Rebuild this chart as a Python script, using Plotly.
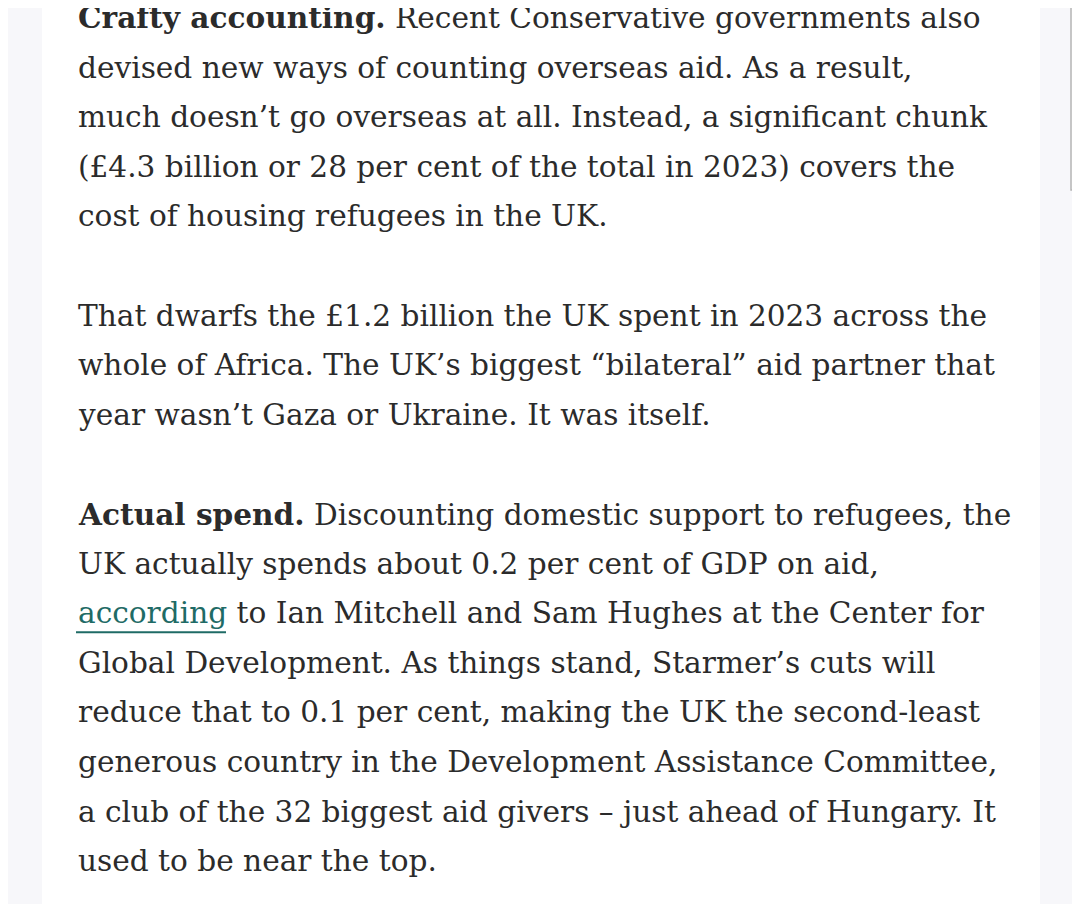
import plotly.graph_objects as go

W, H = 1080, 904
OFF = 8  # default body margin of the page

# text content, one entry per rendered line
para1 = [
    "<b>Crafty accounting.</b> Recent Conservative governments also",
    "devised new ways of counting overseas aid. As a result,",
    "much doesn\u2019t go overseas at all. Instead, a significant chunk",
    "(\u00a34.3 billion or 28 per cent of the total in 2023) covers the",
    "cost of housing refugees in the UK.",
]
para2 = [
    "That dwarfs the \u00a31.2 billion the UK spent in 2023 across the",
    "whole of Africa. The UK\u2019s biggest \u201cbilateral\u201d aid partner that",
    "year wasn\u2019t Gaza or Ukraine. It was itself.",
]
para3 = [
    "<b>Actual spend.</b> Discounting domestic support to refugees, the",
    "UK actually spends about 0.2 per cent of GDP on aid,",
    "<span style='color:#1f6b66'>according</span> to Ian Mitchell and Sam Hughes at the Center for",
    "Global Development. As things stand, Starmer\u2019s cuts will",
    "reduce that to 0.1 per cent, making the UK the second-least",
    "generous country in the Development Assistance Committee,",
    "a club of the 32 biggest aid givers \u2013 just ahead of Hungary. It",
    "used to be near the top.",
]
paragraphs = [para1, para2, para3]

text_color = "#2b2b2b"
line_h = 49.6
top = 18 - OFF
left = 76 - OFF


def px(x):
    return (x - OFF) / W


def py(y):
    return 1 - (y - OFF) / H


fig = go.Figure()
annotations = []
row = 0
for para in paragraphs:
    for line in para:
        y = top + row * line_h
        annotations.append(dict(
            x=left / W, y=1 - y / H, xref="paper", yref="paper",
            xanchor="left", yanchor="middle", showarrow=False, text=line,
            font=dict(family="DejaVu Serif", size=29.6, color=text_color),
        ))
        row += 1
    row += 1

# link underline below "according" (row 12)
uy = 18 + 12 * line_h + 19
shapes = [
    dict(type="rect", xref="paper", yref="paper", x0=px(42), x1=px(1040), y0=0, y1=1.02,
         fillcolor="white", line=dict(width=0), layer="below"),
    dict(type="line", xref="paper", yref="paper", x0=px(76), x1=px(226),
         y0=py(uy), y1=py(uy), line=dict(color="#1f6b66", width=2)),
    dict(type="rect", xref="paper", yref="paper", x0=px(1071), x1=px(1085),
         y0=py(190), y1=1.03, fillcolor="#fafafa", line=dict(color="#b5b5b5", width=1.5)),
]

fig.update_layout(
    width=W, height=H, margin=dict(l=0, r=0, t=0, b=0),
    paper_bgcolor="#f7f7fa", plot_bgcolor="rgba(0,0,0,0)",
    xaxis=dict(visible=False), yaxis=dict(visible=False),
    annotations=annotations, shapes=shapes, showlegend=False,
)
fig.write_html("out.html")
